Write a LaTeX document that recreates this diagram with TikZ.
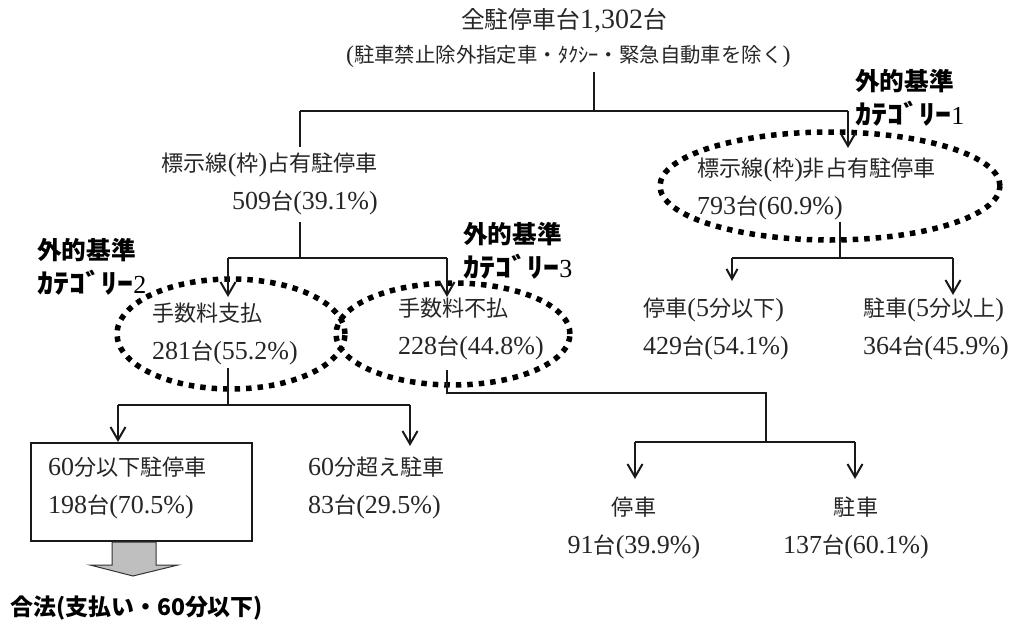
\documentclass[tikz,border=0pt]{standalone}
\usepackage{fontspec}
\setmainfont{Liberation Serif}
\newfontfamily\cjk[Scale=0.85]{Noto Sans CJK JP}
\newcommand\J[1]{{\cjk #1}}
\newcommand\JB[1]{{\cjk\bfseries #1}}
\newcommand\KT{\scalebox{1.3}[1.1]{\JB{ｶﾃｺﾞﾘｰ}}}
\usetikzlibrary{arrows.meta,shapes.geometric}
\tikzset{
  body/.style={font=\fontsize{26}{38}\selectfont, text=black!85, inner sep=0pt},
  bold/.style={font=\fontsize{29}{34}\selectfont, text=black, inner sep=0pt, align=left, anchor=west},
  ln/.style={line width=2pt, draw=black!90},
  arr/.style={ln, -{Straight Barb[length=13pt,width=15pt,line width=2pt]}},
  arrs/.style={ln, -{Straight Barb[length=10pt,width=11pt,line width=2pt]}},
  dotell/.style={draw=black, ellipse, line width=5.5pt, dash pattern=on 5.5pt off 6pt, inner sep=0pt},
  boxnode/.style={draw=black!90, line width=2pt, minimum width=221pt, minimum height=98pt, inner sep=0pt},
}
\begin{document}
\begin{tikzpicture}[x=1pt,y=-1pt]
\useasboundingbox (0,0) rectangle (1026,624);

% titles
\node[body, font=\fontsize{28}{30}\selectfont] (title) at (564,21) {\J{全駐停車台}1,302\J{台}};
\node[body, font=\fontsize{24}{26}\selectfont, anchor=west] (sub) at (346,56) {(\J{駐車禁止除外指定車・ﾀｸｼｰ・緊急自動車を除く})};

% ellipses
\node[dotell, minimum width=228pt, minimum height=110pt] (EL) at (231,334) {};
\node[dotell, minimum width=234pt, minimum height=102pt] (EM) at (453,334) {};
\node[dotell, minimum width=340pt, minimum height=108pt] (ER) at (830,186) {};

% texts
\node[body, align=right, anchor=east] (L1) at (378,184) {\J{標示線}(\J{枠})\J{占有駐停車}\\509\J{台}(39.1\%)};
\node[body, align=left, anchor=west] (TR) at (697,189) {\J{標示線}(\J{枠})\J{非占有駐停車}\\793\J{台}(60.9\%)};
\node[body, align=left, anchor=west] (TL) at (152,334) {\J{手数料支払}\\281\J{台}(55.2\%)};
\node[body, align=left, anchor=west] (TM) at (398,329) {\J{手数料不払}\\228\J{台}(44.8\%)};
\node[body, align=left, anchor=west] (R1) at (643,329) {\J{停車}(5\J{分以下})\\429\J{台}(54.1\%)};
\node[body, align=left, anchor=west] (R2) at (863,329) {\J{駐車}(5\J{分以上})\\364\J{台}(45.9\%)};
\node[boxnode] (box) at (141.5,492) {};
\node[body, align=left, anchor=west] (BT) at (48,488) {60\J{分以下駐停車}\\198\J{台}(70.5\%)};
\node[body, align=left, anchor=west] (M1) at (308,488) {60\J{分超え駐車}\\83\J{台}(29.5\%)};
\node[body, align=center] (B1) at (634,528) {\J{停車}\\91\J{台}(39.9\%)};
\node[body, align=center] (B2) at (856,528) {\J{駐車}\\137\J{台}(60.1\%)};

% bold labels
\node[bold] (K1) at (855,98) {\JB{外的基準}\\\KT{\fontsize{26}{30}\selectfont 1}};
\node[bold] (K2) at (37,267) {\JB{外的基準}\\\KT{\fontsize{26}{30}\selectfont 2}};
\node[bold] (K3) at (463,251) {\JB{外的基準}\\\KT{\fontsize{26}{30}\selectfont 3}};
\node[bold, font=\fontsize{27}{30}\selectfont] (legal) at (10,608) {\JB{合法(支払い・60分以下)}};

% connector coordinates
\coordinate (s0) at (594,72);
\coordinate (hL) at (300,111);
\coordinate (hR) at (848,111);
\coordinate (aR) at (848,148);
\coordinate (l1a) at (300,147);
\coordinate (l1b) at (300,222);
\coordinate (l1h) at (300,258);
\coordinate (l1L) at (228,258);
\coordinate (l1R) at (447,258);
\coordinate (aEL) at (228,297);
\coordinate (aEM) at (447,297);
\coordinate (rs) at (840,222);
\coordinate (rh) at (840,258);
\coordinate (rL) at (732,258);
\coordinate (rR) at (953,258);
\coordinate (aR1) at (732,281);
\coordinate (aR2) at (953,295);
\coordinate (els) at (228,368);
\coordinate (elh) at (228,405);
\coordinate (elL) at (118,405);
\coordinate (elR) at (410,405);
\coordinate (aM1) at (410,446);
\coordinate (ems) at (447,370);
\coordinate (emh) at (447,393);
\coordinate (emc) at (766,393);
\coordinate (emd) at (766,442);
\coordinate (emL) at (635,442);
\coordinate (emR) at (855,442);
\coordinate (aB1) at (635,479);
\coordinate (aB2) at (855,479);

% connectors
\draw[ln] (s0) -- (s0 |- hL);
\draw[ln] (hL) -- (hR);
\draw[ln] (hL) -- (l1a);
\draw[arr] (hR) -- (aR);
\draw[ln] (l1b) -- (l1h);
\draw[ln] (l1L) -- (l1R);
\draw[arr] (l1L) -- (aEL);
\draw[arr] (l1R) -- (aEM);
\draw[ln] (rs) -- (rh);
\draw[ln] (rL) -- (rR);
\draw[arrs] (rL) -- (aR1);
\draw[arr] (rR) -- (aR2);
\draw[ln] (els) -- (elh);
\draw[ln] (elL) -- (elR);
\draw[arr] (elL) -- (box.north -| elL);
\draw[arr] (elR) -- (aM1);
\draw[ln] (ems) -- (emh) -- (emc) -- (emd);
\draw[ln] (emL) -- (emR);
\draw[arr] (emL) -- (aB1);
\draw[arr] (emR) -- (aB2);

% gray block arrow
\draw[fill=black!25, draw=black!80, line width=1pt]
  (box.south -| 112,0) -- (112,565) -- (90,565) -- (133,576) -- (178,565) -- (156,565) -- (box.south -| 156,0) -- cycle;
\end{tikzpicture}
\end{document}
